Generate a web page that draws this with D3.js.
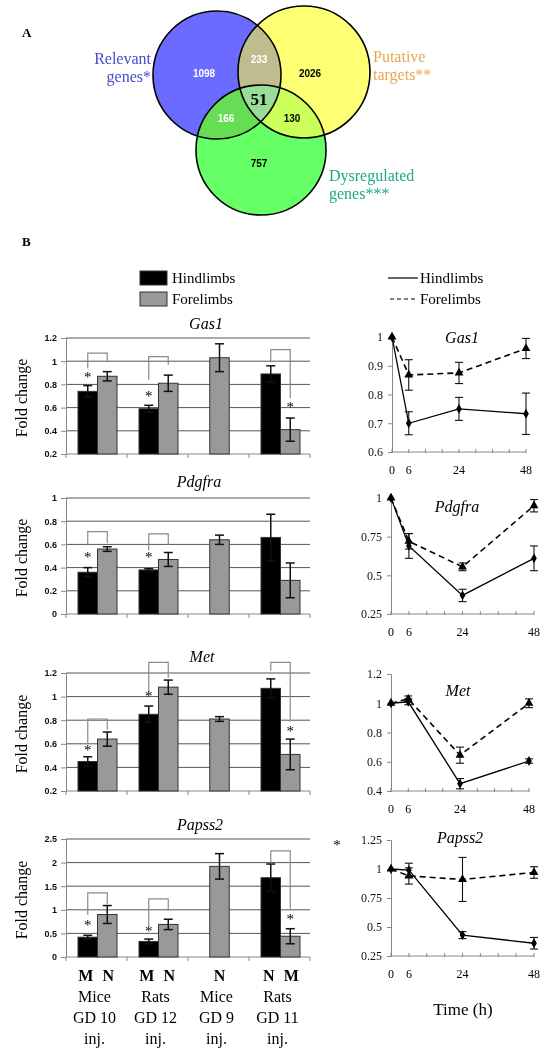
<!DOCTYPE html>
<html><head><meta charset="utf-8">
<script src="https://cdn.jsdelivr.net/npm/d3@7"></script>
<style>
body{margin:0;background:#fff}
svg{display:block;will-change:transform}
svg text{font-family:"Liberation Serif","Times New Roman",Times,serif}
svg text.sans, svg .sans text{font-family:"Liberation Sans",Arial,Helvetica,sans-serif}
</style>
</head><body><svg id="c" width="547" height="1050"></svg>
<script>
// ---------------- DATA ----------------
const vennSets = ["Relevant genes*", "Putative targets**", "Dysregulated genes***"];
const vennOnly = ["1098", "2026", "757"];
const vennPairs = ["233", "166", "130"]; // R∩P, R∩D, P∩D
const vennAll = "51";

const groups = ["Mice GD 10 inj.", "Rats GD 12 inj.", "Mice GD 9 inj.", "Rats GD 11 inj."];
const groupLetters = [["M", "N"], ["M", "N"], ["N"], ["N", "M"]];
const groupSpecies = ["Mice", "Rats", "Mice", "Rats"];
const groupDay = ["GD 10", "GD 12", "GD 9", "GD 11"];

const gas1Hind = [0.74, 0.59, null, 0.89];
const gas1HindErr = [0.05, 0.03, null, 0.07];
const gas1Fore = [0.87, 0.81, 1.03, 0.41];
const gas1ForeErr = [0.04, 0.07, 0.12, 0.10];
const gas1BarTicks = [0.2, 0.4, 0.6, 0.8, 1, 1.2];
const gas1Stars = [[0, "h", 0.89], [1, "h", 0.73], [3, "f", 0.63]];
const gas1Brackets = [[0, 1.07, 0.94, 1.0], [1, 1.04, 0.84, 0.97], [3, 1.10, 0.99, 0.68]];

const pdgfraHind = [0.36, 0.38, null, 0.66];
const pdgfraHindErr = [0.04, 0.01, null, 0.20];
const pdgfraFore = [0.56, 0.47, 0.64, 0.29];
const pdgfraForeErr = [0.02, 0.06, 0.04, 0.15];
const pdgfraBarTicks = [0, 0.2, 0.4, 0.6, 0.8, 1];
const pdgfraStars = [[0, "h", 0.52], [1, "h", 0.52]];
const pdgfraBrackets = [[0, 0.71, 0.59, 0.61], [1, 0.69, 0.55, 0.60]];

const metHind = [0.45, 0.85, null, 1.07];
const metHindErr = [0.04, 0.07, null, 0.08];
const metFore = [0.64, 1.08, 0.81, 0.51];
const metForeErr = [0.06, 0.06, 0.02, 0.13];
const metBarTicks = [0.2, 0.4, 0.6, 0.8, 1, 1.2];
const metStars = [[0, "h", 0.57], [1, "h", 1.03], [3, "f", 0.73]];
const metBrackets = [[0, 0.81, 0.60, 0.72], [1, 1.29, 1.04, 1.16], [3, 1.29, 1.22, 0.79]];

const papss2Hind = [0.42, 0.33, null, 1.68];
const papss2HindErr = [0.04, 0.05, null, 0.29];
const papss2Fore = [0.90, 0.69, 1.92, 0.44];
const papss2ForeErr = [0.19, 0.11, 0.27, 0.16];
const papss2BarTicks = [0, 0.5, 1, 1.5, 2, 2.5];
const papss2Stars = [[0, "h", 0.74], [1, "h", 0.61], [3, "f", 0.87]];
const papss2Brackets = [[0, 1.36, 0.89, 1.12], [1, 1.23, 0.66, 0.98], [3, 2.25, 2.0, 1.02]];

const timePoints = [0, 6, 24, 48];
const timeTickLabels = [0, 6, 24, 48];
const timeMinorTicks = [0, 6, 12, 18, 24, 30, 36, 42, 48];

const gas1LineHind = [1, 0.70, 0.75, 0.733];
const gas1LineHindErr = [0, 0.04, 0.04, 0.072];
const gas1LineFore = [1, 0.868, 0.875, 0.96];
const gas1LineForeErr = [0, 0.053, 0.037, 0.035];
const gas1LineTicks = [0.6, 0.7, 0.8, 0.9, 1];

const pdgfraLineHind = [1, 0.69, 0.37, 0.61];
const pdgfraLineHindErr = [0, 0.08, 0.04, 0.08];
const pdgfraLineFore = [1, 0.72, 0.555, 0.95];
const pdgfraLineForeErr = [0, 0.05, 0.025, 0.04];
const pdgfraLineTicks = [0.25, 0.5, 0.75, 1];

const metLineHind = [1, 1.01, 0.45, 0.605];
const metLineHindErr = [0, 0.02, 0.035, 0.015];
const metLineFore = [1, 1.03, 0.645, 1.0];
const metLineForeErr = [0, 0.02, 0.055, 0.03];
const metLineTicks = [0.4, 0.6, 0.8, 1, 1.2];

const papss2LineHind = [1, 0.99, 0.43, 0.36];
const papss2LineHindErr = [0, 0.06, 0.03, 0.05];
const papss2LineFore = [1, 0.94, 0.91, 0.97];
const papss2LineForeErr = [0, 0.07, 0.19, 0.05];
const papss2LineTicks = [0.25, 0.5, 0.75, 1, 1.25];

// ---------------- DRAW ----------------
const svg = d3.select("#c");
const defs = svg.append("defs");
const fmt = v => String(+v.toFixed(2));

// ----- Panel A: Venn -----
svg.append("text").attr("x", 22).attr("y", 37).attr("font-weight", "bold").attr("font-size", 13).text("A");
const circ = [
  {cx: 217, cy: 75, r: 64, fill: "#6b6bff"},
  {cx: 304, cy: 72, r: 66, fill: "#ffff73"},
  {cx: 261, cy: 150, r: 65, fill: "#66ff66"}
];
circ.forEach((c, i) => defs.append("clipPath").attr("id", "cp" + i)
  .append("circle").attr("cx", c.cx).attr("cy", c.cy).attr("r", c.r));
const vg = svg.append("g");
const addCircle = (g, c, fill, stroke) => g.append("circle").attr("cx", c.cx).attr("cy", c.cy).attr("r", c.r)
  .attr("fill", fill).attr("stroke", stroke || "none").attr("stroke-width", 1.6);
circ.forEach(c => addCircle(vg, c, c.fill));
const overlap = (a, b, fill) => addCircle(vg.append("g").attr("clip-path", `url(#cp${a})`), circ[b], fill);
overlap(0, 1, "#bfbc8f");
overlap(0, 2, "#66dd55");
overlap(1, 2, "#ccff5a");
addCircle(vg.append("g").attr("clip-path", "url(#cp0)").append("g").attr("clip-path", "url(#cp1)"), circ[2], "#99dd99");
circ.forEach(c => addCircle(vg, c, "none", "#000"));

const vennNums = [
  [vennOnly[0], 204, 77, "#fff"], [vennOnly[1], 310, 77, "#000"], [vennOnly[2], 259, 167, "#000"],
  [vennPairs[0], 259, 63, "#fff"], [vennPairs[1], 226, 122, "#fff"], [vennPairs[2], 292, 122, "#000"]
];
vennNums.forEach(d => svg.append("text").attr("class", "sans").attr("x", d[1]).attr("y", d[2]).attr("text-anchor", "middle")
  .attr("font-weight", "bold").attr("font-size", 10).attr("fill", d[3]).text(d[0]));
svg.append("text").attr("x", 259).attr("y", 105).attr("text-anchor", "middle")
  .attr("font-weight", "bold").attr("font-size", 17).text(vennAll);

const setLab = (lines, x, y, anchor, color) => {
  lines.forEach((l, i) => svg.append("text").attr("x", x).attr("y", y + i * 18).attr("text-anchor", anchor)
    .attr("font-size", 16).attr("fill", color).text(l));
};
const split = s => { const i = s.indexOf(" "); return [s.slice(0, i), s.slice(i + 1)]; };
setLab(split(vennSets[0]), 151, 64, "end", "#4a4ad0");
setLab(split(vennSets[1]), 373, 62, "start", "#e8a850");
setLab(split(vennSets[2]), 329, 181, "start", "#1fa98a");

// ----- Panel B -----
svg.append("text").attr("x", 22).attr("y", 246).attr("font-weight", "bold").attr("font-size", 13).text("B");

// legends
svg.append("rect").attr("x", 140).attr("y", 271).attr("width", 27).attr("height", 14).attr("fill", "#000")
  .attr("stroke", "#333");
svg.append("rect").attr("x", 140).attr("y", 292).attr("width", 27).attr("height", 14).attr("fill", "#999")
  .attr("stroke", "#333");
svg.append("text").attr("x", 172).attr("y", 283).attr("font-size", 15).text("Hindlimbs");
svg.append("text").attr("x", 172).attr("y", 304).attr("font-size", 15).text("Forelimbs");
svg.append("line").attr("x1", 388).attr("x2", 418).attr("y1", 278).attr("y2", 278).attr("stroke", "#000").attr("stroke-width", 1.2);
svg.append("line").attr("x1", 390).attr("x2", 418).attr("y1", 299).attr("y2", 299).attr("stroke", "#000")
  .attr("stroke-width", 1.2).attr("stroke-dasharray", "4,3");
svg.append("text").attr("x", 420).attr("y", 283).attr("font-size", 15).text("Hindlimbs");
svg.append("text").attr("x", 420).attr("y", 304).attr("font-size", 15).text("Forelimbs");

// bar panels
const barPanels = [
  {gene: "Gas1", hind: gas1Hind, hindErr: gas1HindErr, fore: gas1Fore, foreErr: gas1ForeErr, ticks: gas1BarTicks,
   stars: gas1Stars, brackets: gas1Brackets, top: 338, bottom: 454, titleX: 206, titleY: 329},
  {gene: "Pdgfra", hind: pdgfraHind, hindErr: pdgfraHindErr, fore: pdgfraFore, foreErr: pdgfraForeErr, ticks: pdgfraBarTicks,
   stars: pdgfraStars, brackets: pdgfraBrackets, top: 498, bottom: 614, titleX: 199, titleY: 487},
  {gene: "Met", hind: metHind, hindErr: metHindErr, fore: metFore, foreErr: metForeErr, ticks: metBarTicks,
   stars: metStars, brackets: metBrackets, top: 673, bottom: 791, titleX: 202, titleY: 662},
  {gene: "Papss2", hind: papss2Hind, hindErr: papss2HindErr, fore: papss2Fore, foreErr: papss2ForeErr, ticks: papss2BarTicks,
   stars: papss2Stars, brackets: papss2Brackets, top: 839, bottom: 957, titleX: 200, titleY: 830}
];
const PL = 66, PR = 310;
const x = d3.scaleBand().domain(groups).range([PL + 1, PR + 1]);
const barW = 19.5;
const center = i => x(groups[i]) + x.bandwidth() / 2;
const hindC = i => center(i) - barW / 2;
const foreC = (i, p) => p.hind[i] == null ? center(i) : center(i) + barW / 2;

barPanels.forEach(p => {
  const y = d3.scaleLinear().domain(d3.extent(p.ticks)).range([p.bottom, p.top]);
  const g = svg.append("g");
  g.append("text").attr("x", p.titleX).attr("y", p.titleY).attr("text-anchor", "middle")
    .attr("font-style", "italic").attr("font-size", 16).text(p.gene);
  g.append("text").attr("transform", `translate(27,${(p.top + p.bottom) / 2 + 2}) rotate(-90)`).attr("text-anchor", "middle")
    .attr("font-size", 16).text("Fold change");
  // grid
  g.selectAll(".grid").data(p.ticks.slice(1)).join("line").attr("x1", PL).attr("x2", PR)
    .attr("y1", d => y(d)).attr("y2", d => y(d)).attr("stroke", "#555").attr("stroke-width", 1);
  // axes
  const ax = g.append("g").attr("class", "sans").attr("transform", `translate(${PL},0)`)
    .call(d3.axisLeft(y).tickValues(p.ticks).tickFormat(fmt).tickSize(5).tickPadding(4));
  ax.attr("font-family", null);
  ax.select(".domain").attr("stroke", "#888");
  ax.selectAll(".tick line").attr("stroke", "#888");
  ax.selectAll("text").attr("font-weight", "bold").attr("font-size", 9).attr("fill", "#111");
  g.append("line").attr("x1", PL).attr("x2", PR).attr("y1", p.bottom).attr("y2", p.bottom).attr("stroke", "#888");
  const bounds = groups.map(d => x(d)).concat([x(groups[3]) + x.bandwidth()]);
  g.selectAll(".xt").data(bounds).join("line").attr("x1", d => d - 1).attr("x2", d => d - 1)
    .attr("y1", p.bottom).attr("y2", p.bottom + 4).attr("stroke", "#888");
  // bars
  const bars = [];
  groups.forEach((gr, i) => {
    if (p.hind[i] != null) bars.push({xc: hindC(i), v: p.hind[i], e: p.hindErr[i], fill: "#000"});
    bars.push({xc: foreC(i, p), v: p.fore[i], e: p.foreErr[i], fill: "#999"});
  });
  g.selectAll(".bar").data(bars).join("rect").attr("x", d => d.xc - barW / 2).attr("width", barW)
    .attr("y", d => y(d.v)).attr("height", d => p.bottom - y(d.v)).attr("fill", d => d.fill)
    .attr("stroke", "#333").attr("stroke-width", 1);
  const eb = g.selectAll(".eb").data(bars).join("g").attr("stroke", "#111").attr("stroke-width", 1.5);
  eb.append("line").attr("x1", d => d.xc).attr("x2", d => d.xc).attr("y1", d => y(d.v - d.e)).attr("y2", d => y(d.v + d.e));
  eb.append("line").attr("x1", d => d.xc - 4.5).attr("x2", d => d.xc + 4.5).attr("y1", d => y(d.v - d.e)).attr("y2", d => y(d.v - d.e));
  eb.append("line").attr("x1", d => d.xc - 4.5).attr("x2", d => d.xc + 4.5).attr("y1", d => y(d.v + d.e)).attr("y2", d => y(d.v + d.e));
  // brackets
  g.selectAll(".br").data(p.brackets).join("path").attr("fill", "none").attr("stroke", "#8a8a8a").attr("stroke-width", 1.2)
    .attr("d", d => `M${hindC(d[0])},${y(d[2])}V${y(d[1])}H${foreC(d[0], p)}V${y(d[3])}`);
  // stars
  g.selectAll(".st").data(p.stars).join("text").attr("x", d => d[1] === "h" ? hindC(d[0]) : foreC(d[0], p))
    .attr("y", d => y(d[2]) + 8).attr("text-anchor", "middle").attr("font-size", 15)
    .attr("fill", "#000").text("*");
});

// bottom category labels
const pLast = barPanels[3];
groups.forEach((gr, i) => {
  const lets = groupLetters[i];
  const xs = lets.length === 2 ? [hindC(i) - 2, foreC(i, pLast) + 1] : [center(i)];
  lets.forEach((l, j) => svg.append("text").attr("x", xs[j]).attr("y", 981).attr("text-anchor", "middle")
    .attr("font-weight", "bold").attr("font-size", 16).text(l));
  [groupSpecies[i], groupDay[i], "inj."].forEach((t, k) => svg.append("text").attr("x", center(i) - 3)
    .attr("y", 1002 + k * 21).attr("text-anchor", "middle").attr("font-size", 16).text(t));
});

// line panels
const linePanels = [
  {gene: "Gas1", hind: gas1LineHind, hindErr: gas1LineHindErr, fore: gas1LineFore, foreErr: gas1LineForeErr,
   ticks: gas1LineTicks, x0: 392, x1: 526, top: 337, bottom: 452, titleX: 462, titleY: 343},
  {gene: "Pdgfra", hind: pdgfraLineHind, hindErr: pdgfraLineHindErr, fore: pdgfraLineFore, foreErr: pdgfraLineForeErr,
   ticks: pdgfraLineTicks, x0: 391, x1: 534, top: 498, bottom: 614, titleX: 457, titleY: 512},
  {gene: "Met", hind: metLineHind, hindErr: metLineHindErr, fore: metLineFore, foreErr: metLineForeErr,
   ticks: metLineTicks, x0: 391, x1: 529, top: 674, bottom: 791, titleX: 458, titleY: 696},
  {gene: "Papss2", hind: papss2LineHind, hindErr: papss2LineHindErr, fore: papss2LineFore, foreErr: papss2LineForeErr,
   ticks: papss2LineTicks, x0: 391, x1: 534, top: 840, bottom: 956, titleX: 460, titleY: 843}
];
linePanels.forEach(p => {
  const xs = d3.scaleLinear().domain([0, 48]).range([p.x0, p.x1]);
  const y = d3.scaleLinear().domain(d3.extent(p.ticks)).range([p.bottom, p.top]);
  const g = svg.append("g");
  g.append("text").attr("x", p.titleX).attr("y", p.titleY).attr("text-anchor", "middle")
    .attr("font-style", "italic").attr("font-size", 16).text(p.gene);
  const ax = g.append("g").attr("transform", `translate(${p.x0},0)`)
    .call(d3.axisLeft(y).tickValues(p.ticks).tickFormat(fmt).tickSize(4).tickPadding(5));
  ax.attr("font-family", null);
  ax.select(".domain").attr("stroke", "#888");
  ax.selectAll(".tick line").attr("stroke", "#888");
  ax.selectAll("text").attr("font-size", 12).attr("fill", "#111");
  g.append("line").attr("x1", p.x0).attr("x2", p.x1).attr("y1", p.bottom).attr("y2", p.bottom).attr("stroke", "#888");
  g.selectAll(".mt").data(timeMinorTicks).join("line").attr("x1", d => xs(d)).attr("x2", d => xs(d))
    .attr("y1", p.bottom - 3).attr("y2", p.bottom + 1).attr("stroke", "#888");
  g.selectAll(".xl").data(timeTickLabels).join("text").attr("x", d => xs(d)).attr("y", p.bottom + 22)
    .attr("text-anchor", "middle").attr("font-size", 12).text(d => d);
  const series = [
    {v: p.hind, e: p.hindErr, dash: null, sym: d3.symbolDiamond, size: 28},
    {v: p.fore, e: p.foreErr, dash: "6,4", sym: d3.symbolTriangle, size: 34}
  ];
  series.forEach(s => {
    const pts = timePoints.map((t, i) => ({t, v: s.v[i], e: s.e[i]}));
    g.append("path").datum(pts).attr("fill", "none").attr("stroke", "#000")
      .attr("stroke-width", s.dash ? 1.6 : 1.3).attr("stroke-dasharray", s.dash)
      .attr("d", d3.line().x(d => xs(d.t)).y(d => y(d.v)));
    const eb = g.selectAll(null).data(pts.filter(d => d.e > 0)).join("g").attr("stroke", "#111").attr("stroke-width", 1.1);
    eb.append("line").attr("x1", d => xs(d.t)).attr("x2", d => xs(d.t)).attr("y1", d => y(d.v - d.e)).attr("y2", d => y(d.v + d.e));
    eb.append("line").attr("x1", d => xs(d.t) - 4).attr("x2", d => xs(d.t) + 4).attr("y1", d => y(d.v - d.e)).attr("y2", d => y(d.v - d.e));
    eb.append("line").attr("x1", d => xs(d.t) - 4).attr("x2", d => xs(d.t) + 4).attr("y1", d => y(d.v + d.e)).attr("y2", d => y(d.v + d.e));
    g.selectAll(null).data(pts).join("path").attr("transform", d => `translate(${xs(d.t)},${y(d.v)})`)
      .attr("d", d3.symbol().type(s.sym).size(s.size)).attr("fill", "#000");
  });
});
svg.append("text").attr("x", 337).attr("y", 850).attr("text-anchor", "middle").attr("font-size", 15)
  .attr("fill", "#000").text("*");
svg.append("text").attr("x", 463).attr("y", 1015).attr("text-anchor", "middle").attr("font-size", 17).text("Time (h)");
</script></body></html>
